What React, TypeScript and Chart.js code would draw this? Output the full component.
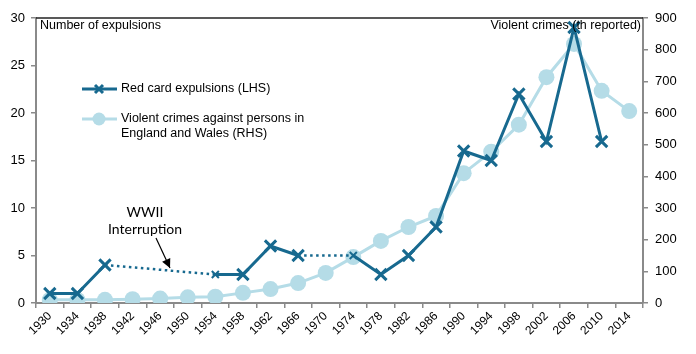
import React, { useEffect, useRef } from "react";
import { Chart, registerables } from "chart.js";

Chart.register(...registerables);

const years = ["1930","1934","1938","1942","1946","1950","1954","1958","1962","1966","1970","1974","1978","1982","1986","1990","1994","1998","2002","2006","2010","2014"];
const redCards: (number | null)[] = [1,1,4,null,null,null,3,3,6,5,null,5,3,5,8,16,15,22,17,29,17,null];
const violentCrimes: number[] = [10,10,10,12,14,18,20,32,44,63,95,145,196,240,275,410,478,563,713,818,670,606];
const leftTicks = { min: 0, max: 30, step: 5 };
const rightTicks = { min: 0, max: 900, step: 100 };

const DARK = "#17698f";
const LIGHT = "#b5dce7";
const AXIS = "#8a8a8a";
const FONT = "'Liberation Sans', Arial, sans-serif";

// indices of points reached through a dotted (gap) segment
const dottedPoints = new Set<number>();
{
  let prev = -1;
  redCards.forEach((v, i) => {
    if (v !== null) {
      if (prev >= 0 && i - prev > 1) dottedPoints.add(i);
      prev = i;
    }
  });
}

const isGapSegment = (c: any) => !!(c.p0.skip || c.p1.skip);

const overlay = {
  id: "overlay",
  afterDatasetsDraw(chart: any) {
    const ctx = chart.ctx;
    const a = chart.chartArea;
    ctx.save();
    // top border
    ctx.strokeStyle = "#222";
    ctx.lineWidth = 1.5;
    ctx.beginPath();
    ctx.moveTo(a.left, a.top);
    ctx.lineTo(a.right, a.top);
    ctx.stroke();

    ctx.fillStyle = "#000";
    ctx.font = `12.5px ${FONT}`;
    ctx.textBaseline = "middle";
    ctx.textAlign = "left";
    ctx.fillText("Number of expulsions", a.left + 4, a.top + 8);
    ctx.textAlign = "right";
    ctx.fillText("Violent crimes (th reported)", a.right - 2, a.top + 8);

    // legend
    ctx.textAlign = "left";
    ctx.strokeStyle = DARK;
    ctx.lineWidth = 3;
    ctx.beginPath();
    ctx.moveTo(82, 89);
    ctx.lineTo(117, 89);
    ctx.stroke();
    ctx.beginPath();
    ctx.moveTo(95, 85); ctx.lineTo(103, 93);
    ctx.moveTo(103, 85); ctx.lineTo(95, 93);
    ctx.stroke();
    ctx.fillText("Red card expulsions (LHS)", 121, 89);

    ctx.strokeStyle = LIGHT;
    ctx.beginPath();
    ctx.moveTo(82, 119);
    ctx.lineTo(117, 119);
    ctx.stroke();
    ctx.fillStyle = LIGHT;
    ctx.beginPath();
    ctx.arc(99, 119, 6.5, 0, Math.PI * 2);
    ctx.fill();
    ctx.fillStyle = "#000";
    ctx.fillText("Violent crimes against persons in", 121, 119);
    ctx.fillText("England and Wales (RHS)", 121, 134);

    // annotation
    ctx.textAlign = "center";
    ctx.font = `14px Lato, 'Open Sans', sans-serif`;
    ctx.fillText("WWII", 145, 212);
    ctx.fillText("Interruption", 145, 229);
    ctx.strokeStyle = "#000";
    ctx.fillStyle = "#000";
    ctx.lineWidth = 1.2;
    const x0 = 156, y0 = 238, x1 = 170, y1 = 268;
    ctx.beginPath();
    ctx.moveTo(x0, y0);
    ctx.lineTo(x1, y1);
    ctx.stroke();
    const ang = Math.atan2(y1 - y0, x1 - x0);
    const len = 9, w = 4.5;
    ctx.beginPath();
    ctx.moveTo(x1, y1);
    ctx.lineTo(x1 - len * Math.cos(ang) + w * Math.sin(ang), y1 - len * Math.sin(ang) - w * Math.cos(ang));
    ctx.lineTo(x1 - len * Math.cos(ang) - w * Math.sin(ang), y1 - len * Math.sin(ang) + w * Math.cos(ang));
    ctx.closePath();
    ctx.fill();
    ctx.restore();
  },
};

export default function App() {
  const ref = useRef<HTMLCanvasElement | null>(null);
  useEffect(() => {
    if (!ref.current) return;
    const chart = new Chart(ref.current, {
      type: "line",
      data: {
        labels: years,
        datasets: [
          {
            label: "Red card expulsions (LHS)",
            data: redCards,
            yAxisID: "y",
            borderColor: DARK,
            backgroundColor: DARK,
            borderWidth: 3,
            spanGaps: true,
            pointStyle: "crossRot",
            pointRadius: (c: any) => (dottedPoints.has(c.dataIndex) ? 5 : 8),
            pointBorderWidth: (c: any) => (dottedPoints.has(c.dataIndex) ? 2 : 3),
            pointBorderColor: DARK,
            segment: {
              borderDash: (c: any) => (isGapSegment(c) ? [2.5, 3.5] : undefined),
              borderWidth: (c: any) => (isGapSegment(c) ? 2.5 : undefined),
            },
          } as any,
          {
            label: "Violent crimes against persons in England and Wales (RHS)",
            data: violentCrimes,
            yAxisID: "y2",
            borderColor: LIGHT,
            backgroundColor: LIGHT,
            borderWidth: 3,
            pointRadius: 8,
            pointBorderWidth: 0,
            pointBackgroundColor: LIGHT,
          },
        ],
      },
      options: {
        responsive: false,
        animation: false,
        layout: { padding: { top: 18, left: 0, right: 0, bottom: 0 } },
        plugins: { legend: { display: false }, tooltip: { enabled: false } },
        scales: {
          x: {
            type: "category",
            offset: true,
            grid: { offset: true, drawOnChartArea: false, tickLength: 5, color: AXIS, lineWidth: 1.5 },
            border: { color: AXIS, width: 2 },
            ticks: { color: "#000", font: { family: FONT, size: 12 }, maxRotation: 45, minRotation: 45, autoSkip: false, padding: 1 },
            afterFit: (s: any) => { s.height = 51; },
          },
          y: {
            position: "left",
            min: leftTicks.min,
            max: leftTicks.max,
            ticks: { stepSize: leftTicks.step, color: "#000", font: { family: FONT, size: 13 }, padding: 6 },
            grid: { drawOnChartArea: false, tickLength: 5, color: AXIS, lineWidth: 1.5 },
            border: { color: AXIS, width: 2 },
            afterFit: (s: any) => { s.width = 36; },
          },
          y2: {
            position: "right",
            min: rightTicks.min,
            max: rightTicks.max,
            ticks: { stepSize: rightTicks.step, color: "#000", font: { family: FONT, size: 13 }, padding: 7 },
            grid: { drawOnChartArea: false, tickLength: 5, color: AXIS, lineWidth: 1.5 },
            border: { color: AXIS, width: 2 },
            afterFit: (s: any) => { s.width = 53; },
          },
        },
      } as any,
      plugins: [overlay],
    });
    return () => chart.destroy();
  }, []);
  return (
    <div style={{ position: "fixed", left: 0, top: 0, width: 696, height: 354, background: "#fff" }}>
      <canvas ref={ref} width={696} height={354} style={{ display: "block" }} />
    </div>
  );
}
